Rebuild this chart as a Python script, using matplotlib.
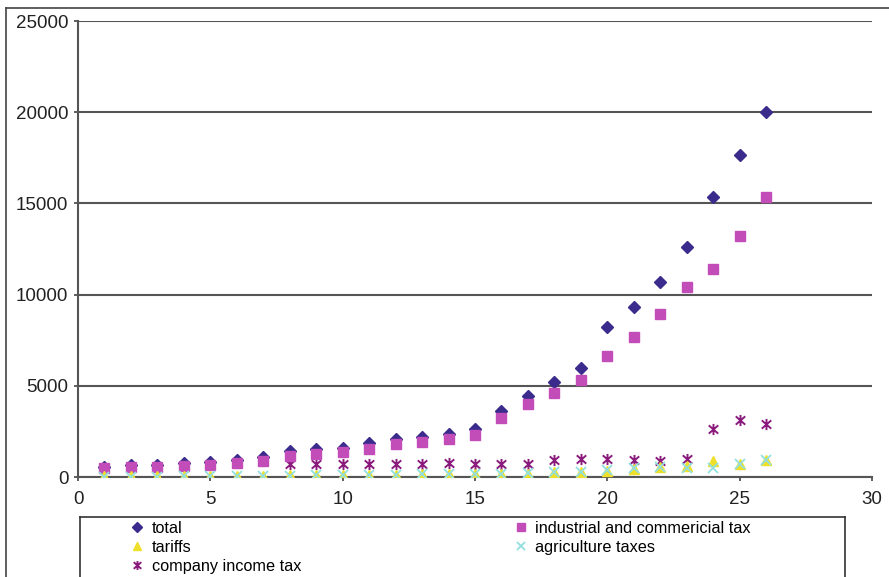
import matplotlib
matplotlib.use("Agg")
import matplotlib.pyplot as plt
from matplotlib.lines import Line2D
from matplotlib.path import Path

plt.rcParams['font.family'] = ['Liberation Sans', 'DejaVu Sans']

years = list(range(1, 27))
total = [550, 660, 650, 760, 840, 930, 1100, 1440, 1530, 1590, 1860, 2080, 2170,
         2360, 2610, 3640, 4440, 5210, 5960, 8240, 9300, 10670, 12600, 15330, 17650, 20000]
industrial = [500, 550, 550, 600, 660, 785, 895, 1150, 1260, 1390, 1530, 1790, 1940,
              2080, 2280, 3230, 4000, 4620, 5320, 6630, 7660, 8920, 10430, 11400, 13210, 15360]
tariffs = [30, 40, 40, 50, 60, 70, 80, 100, 110, 110, 120, 130, 140,
           160, 160, 170, 180, 250, 290, 330, 420, 560, 620, 870, 690, 930]
agriculture = [20, 20, 20, 30, 40, 50, 60, 80, 90, 100, 110, 130, 140,
               150, 160, 180, 200, 260, 300, 380, 470, 530, 470, 490, 710, 950]
company = [500, 550, 550, 600, 660, 780, 890, 700, 700, 700, 700, 700, 700,
           780, 700, 700, 700, 930, 1000, 1000, 930, 860, 990, 2630, 3120, 2900]

labels = ["total", "industrial and commericial tax", "tariffs",
          "agriculture taxes", "company income tax"]

W, H = 889, 577
fig = plt.figure(figsize=(W / 100, H / 100), dpi=100)

# outer chart frame
fig.add_artist(Line2D([6 / W, 6 / W], [0, 1 - 8 / H], color='#444444', lw=1.2))
fig.add_artist(Line2D([6 / W, 1], [1 - 8 / H, 1 - 8 / H], color='#444444', lw=1.2))

# legend frame (extends past the bottom edge)
lx0, lx1, ly0 = 80 / W, 845 / W, 1 - 517 / H
fig.add_artist(Line2D([lx0, lx1], [ly0, ly0], color='#333333', lw=1.2))
fig.add_artist(Line2D([lx0, lx0], [ly0, 0], color='#333333', lw=1.2))
fig.add_artist(Line2D([lx1, lx1], [ly0, 0], color='#333333', lw=1.2))

ax = fig.add_axes([78 / W, 1 - 477 / H, (872 - 78) / W, (477 - 21) / H])

c_total = '#3a2b8c'
c_ind = '#c24db8'
c_tar = '#eee02a'
c_agr = '#92dfe0'
c_com = '#8a1b7c'

star = Path([(0, -1), (0, 1), (-0.85, -0.75), (0.85, 0.75), (-0.85, 0.75), (0.85, -0.75)],
            [Path.MOVETO, Path.LINETO, Path.MOVETO, Path.LINETO, Path.MOVETO, Path.LINETO])

h1 = ax.plot(years, total, linestyle='none', marker='D', ms=6, color=c_total, zorder=3)[0]
h5 = ax.plot(years, company, linestyle='none', marker=star, ms=8, mew=1.4,
             mec=c_com, mfc='none', zorder=4)[0]
h2 = ax.plot(years, industrial, linestyle='none', marker='s', ms=6.5, color=c_ind, zorder=5)[0]
h3 = ax.plot(years, tariffs, linestyle='none', marker='^', ms=7.5, color=c_tar, zorder=6)[0]
h4 = ax.plot(years, agriculture, linestyle='none', marker='x', ms=6.5, mew=1.3, color=c_agr, zorder=7)[0]

ax.set_xlim(0, 30)
ax.set_ylim(0, 25000)
ax.set_xticks(range(0, 31, 5))
ax.set_yticks(range(0, 25001, 5000))
ax.yaxis.grid(True, color='#555555', lw=1.5)
ax.set_axisbelow(True)
for s in ['top', 'right']:
    ax.spines[s].set_visible(False)
for s in ['left', 'bottom']:
    ax.spines[s].set_color('#555555')
    ax.spines[s].set_linewidth(1.5)
ax.tick_params(axis='both', direction='out', length=3, width=1.2, color='#444444',
               labelsize=13.5, labelcolor='#222222')
ax.tick_params(axis='x', pad=7)
ax.tick_params(axis='y', pad=4)

handles = [h1, h3, h5, h2, h4]
hl = [labels[0], labels[2], labels[4], labels[1], labels[3]]
leg = fig.legend(handles, hl, ncol=2, loc='upper left',
                 bbox_to_anchor=(129 / W, 1 - 521 / H),
                 frameon=False, fontsize=11.7,
                 borderaxespad=0, borderpad=0, labelspacing=0.25,
                 handletextpad=0.4, columnspacing=13.0, handlelength=1.0,
                 markerscale=0.8)

fig.savefig('out.png', dpi=100)
